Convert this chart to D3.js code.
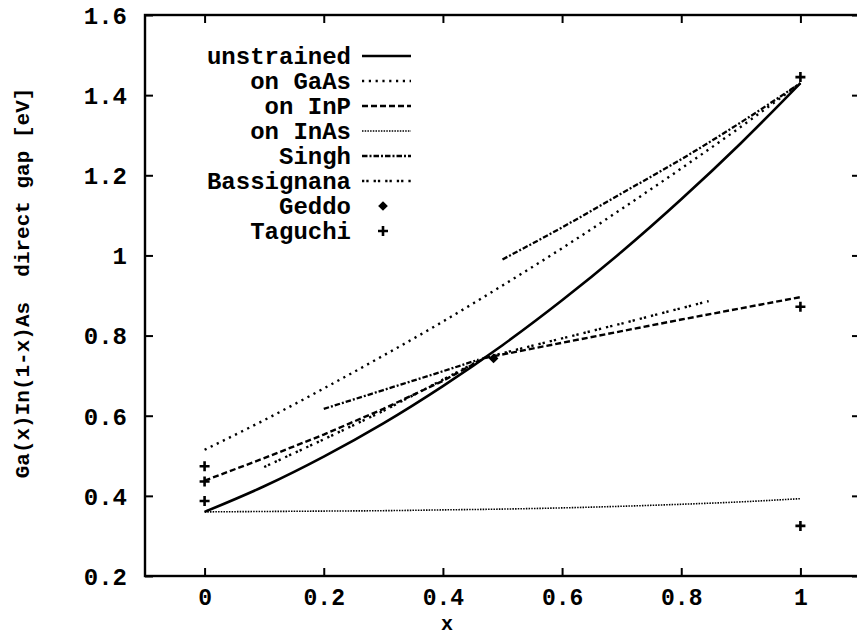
<!DOCTYPE html>
<html>
<head>
<meta charset="utf-8">
<script src="https://cdn.jsdelivr.net/npm/d3@7"></script>
<style>
  html, body { margin: 0; padding: 0; background: #fff; }
  svg { display: block; }
  text { font-family: "Liberation Mono", "DejaVu Sans Mono", monospace; font-weight: bold; fill: #000; }
</style>
</head>
<body>
<script>
// ---------------- data ----------------
const gridX        = [0, 0.1, 0.2, 0.3, 0.4, 0.5, 0.6, 0.7, 0.8, 0.9, 1];
const unstrained   = [0.36, 0.424, 0.498, 0.581, 0.674, 0.776, 0.888, 1.009, 1.140, 1.280, 1.43];
const onGaAs       = [0.515, 0.589, 0.668, 0.750, 0.835, 0.925, 1.018, 1.116, 1.217, 1.321, 1.43];
const onInAs       = [0.36, 0.361, 0.362, 0.363, 0.365, 0.367, 0.370, 0.374, 0.379, 0.385, 0.393];
const inpX         = [0, 0.1, 0.2, 0.3, 0.4, 0.47, 0.6, 0.7, 0.8, 0.9, 1];
const onInP        = [0.438, 0.494, 0.553, 0.617, 0.687, 0.744, 0.782, 0.811, 0.840, 0.868, 0.896];
const singhLowX    = [0.2, 0.3, 0.4, 0.46];
const singhLow     = [0.617, 0.664, 0.711, 0.740];
const singhHighX   = [0.5, 0.6, 0.7, 0.8, 0.9, 1];
const singhHigh    = [0.99, 1.07, 1.155, 1.24, 1.332, 1.43];
const bassX        = [0.1, 0.2, 0.3, 0.4, 0.47, 0.6, 0.7, 0.846];
const bassignana   = [0.472, 0.541, 0.612, 0.690, 0.745, 0.793, 0.830, 0.886];
const geddoX       = [0.485];
const geddoY       = [0.743];
const taguchiX     = [0, 0, 0, 1, 1, 1];
const taguchiY     = [0.474, 0.436, 0.387, 1.445, 0.872, 0.325];
const xTicks       = [0, 0.2, 0.4, 0.6, 0.8, 1];
const yTicks       = [0.2, 0.4, 0.6, 0.8, 1.0, 1.2, 1.4, 1.6];
const legendNames  = ["unstrained", "on GaAs", "on InP", "on InAs", "Singh", "Bassignana", "Geddo", "Taguchi"];

// ---------------- layout ----------------
const W = 857, H = 637;
const x = d3.scaleLinear().domain([-0.1, 1.1]).range([145, 860]);
const y = d3.scaleLinear().domain([0.2, 1.6]).range([576, 15]);

const svg = d3.select("body").append("svg").attr("width", W).attr("height", H);

const styles = {
  "unstrained": { dash: null,           w: 2.6, cap: "butt" },
  "on GaAs":    { dash: "2.2,4.6",      w: 2.4, cap: "butt" },
  "on InP":     { dash: "6,3",          w: 2.4, cap: "butt" },
  "on InAs":    { dash: "1.5,1.2",      w: 1.6, cap: "butt" },
  "Singh":      { dash: "5.5,2,2,2",    w: 2.3, cap: "butt" },
  "Bassignana": { dash: "2.3,2,2.3,5",  w: 2.4, cap: "butt" }
};

// frame
const x0 = x.range()[0], x1 = x.range()[1], yT = y.range()[1], yB = y.range()[0];
svg.append("rect").attr("x", x0).attr("y", yT).attr("width", x1 - x0).attr("height", yB - yT)
  .attr("fill", "none").attr("stroke", "#000").attr("stroke-width", 2.4);

// axes with inward ticks, ticks on all four sides
const tickLen = 8;
const gx = svg.append("g").attr("transform", `translate(0,${yB})`)
  .call(d3.axisBottom(x).tickValues(xTicks).tickSize(-tickLen).tickPadding(13).tickFormat(d3.format("~g")));
const gxt = svg.append("g").attr("transform", `translate(0,${yT})`)
  .call(d3.axisTop(x).tickValues(xTicks).tickSize(-tickLen).tickFormat(""));
const gy = svg.append("g").attr("transform", `translate(${x0},0)`)
  .call(d3.axisLeft(y).tickValues(yTicks).tickSize(-tickLen).tickPadding(18).tickFormat(d3.format("~g")));
const gyr = svg.append("g").attr("transform", `translate(${x1},0)`)
  .call(d3.axisRight(y).tickValues(yTicks).tickSize(-tickLen).tickFormat(""));
[gx, gxt, gy, gyr].forEach(g => {
  g.select(".domain").remove();
  g.selectAll(".tick line").attr("stroke", "#000").attr("stroke-width", 2);
  g.selectAll("text").style("font-family", "Liberation Mono").style("font-weight", "bold");
});
gx.selectAll("text").style("font-size", "23px").attr("dy", "0.71em");
gy.selectAll("text").style("font-size", "24px").attr("dy", "0.35em");

// axis titles
svg.append("text").attr("x", 447).attr("y", 630)
  .attr("text-anchor", "middle").style("font-size", "20px").text("x");
svg.append("text").attr("transform", `translate(29,${283}) rotate(-90)`)
  .attr("text-anchor", "middle").style("font-size", "21px").attr("xml:space", "preserve")
  .text("Ga(x)In(1-x)As  direct gap [eV]");

// curves
const line = d3.line().x(d => x(d[0])).y(d => y(d[1])).curve(d3.curveMonotoneX);
const lineLin = d3.line().x(d => x(d[0])).y(d => y(d[1]));
const series = [
  { name: "unstrained", xs: gridX, ys: unstrained, gen: line },
  { name: "on GaAs", xs: gridX, ys: onGaAs, gen: line },
  { name: "on InP", xs: inpX, ys: onInP, gen: lineLin },
  { name: "on InAs", xs: gridX, ys: onInAs, gen: line },
  { name: "Singh", xs: singhLowX, ys: singhLow, gen: line },
  { name: "Singh", xs: singhHighX, ys: singhHigh, gen: line },
  { name: "Bassignana", xs: bassX, ys: bassignana, gen: lineLin }
];
series.forEach(s => {
  const st = styles[s.name];
  svg.append("path")
    .datum(s.xs.map((v, i) => [v, s.ys[i]]))
    .attr("d", s.gen)
    .attr("fill", "none").attr("stroke", "#000")
    .attr("stroke-width", st.w).attr("stroke-linecap", st.cap)
    .attr("stroke-dasharray", st.dash);
});

// markers
const plus = (g, cx, cy) => {
  g.append("path").attr("d", `M${cx - 5},${cy}H${cx + 5}M${cx},${cy - 5}V${cy + 5}`)
    .attr("stroke", "#000").attr("stroke-width", 2.6).attr("fill", "none");
};
const diamond = (g, cx, cy) => {
  g.append("path").attr("d", d3.symbol().type(d3.symbolDiamond2).size(60)())
    .attr("transform", `translate(${cx},${cy})`).attr("fill", "#000");
};
taguchiX.forEach((v, i) => plus(svg, x(v), y(taguchiY[i])));
geddoX.forEach((v, i) => diamond(svg, x(v), y(geddoY[i])));

// legend
const legBaseline = 64, legStep = 25, legTextX = 351, legL0 = 362, legL1 = 411;
legendNames.forEach((name, i) => {
  const by = legBaseline + i * legStep;
  svg.append("text").attr("x", legTextX).attr("y", by).attr("text-anchor", "end")
    .style("font-size", "24px").text(name);
  const cy = by - 8;
  if (styles[name]) {
    const st = styles[name];
    svg.append("path").datum([[legL0, cy], [legL1, cy]])
      .attr("d", d3.line())
      .attr("fill", "none").attr("stroke", "#000")
      .attr("stroke-width", st.w).attr("stroke-dasharray", st.dash);
  } else if (name === "Geddo") {
    diamond(svg, 383, cy);
  } else {
    plus(svg, 383, cy);
  }
});
</script>
</body>
</html>
